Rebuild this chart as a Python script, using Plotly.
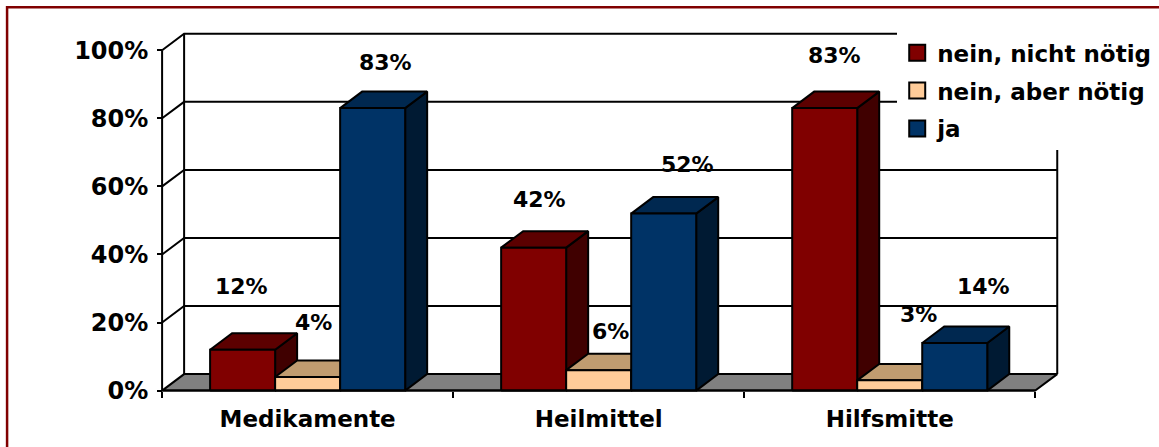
import plotly.graph_objects as go

# ---- data ----
categories = ["Medikamente", "Heilmittel", "Hilfsmitte"]
series_names = ["nein, nicht nötig", "nein, aber nötig", "ja"]
nein_nicht_noetig = [12, 42, 83]
nein_aber_noetig = [4, 6, 3]
ja = [83, 52, 14]
y_ticks = [0, 20, 40, 60, 80, 100]
y_tick_labels = ["0%", "20%", "40%", "60%", "80%", "100%"]

series_values = [nein_nicht_noetig, nein_aber_noetig, ja]

# ---- styling ----
# (front, top, side) face colours per series
FACE_COLORS = [
    ("#800000", "#5c0000", "#400000"),
    ("#ffcc99", "#c09c70", "#a07850"),
    ("#003366", "#002850", "#001a33"),
]
FLOOR_COLOR = "#808080"
EDGE = "black"
EDGE_W = 2
FONT = "DejaVu Sans"

# pixel offsets of the data labels relative to each bar's front top centre
LABEL_NUDGE = [
    [(-1, 63), (6, 54), (13, 46)],
    [(6, 48), (12, 39), (24, 49)],
    [(10, 53), (29, 66), (29, 56)],
]

# ---- 3D column geometry (in axis units) ----
BAR_W = 0.2234                 # bar width, category units
PAD = (1 - 3 * BAR_W) / 2      # gap on each side of a cluster
DX = 0.0756                    # depth offset along x
DY = 4.84                      # depth offset along y (percent)
N = len(categories)

# ---- plotting-area calibration ----
W_FIG, H_FIG = 1159, 447
X0_PX, X_UNIT_PX = 162, 291
Y0_PX, Y_UNIT_PX = 391, 3.41
XMIN, XMAX = -0.1, 3.25
YMIN, YMAX = -6, 108
plot_left = X0_PX + XMIN * X_UNIT_PX
plot_right = X0_PX + XMAX * X_UNIT_PX
plot_top = Y0_PX - YMAX * Y_UNIT_PX
plot_bottom = Y0_PX - YMIN * Y_UNIT_PX


def paper_x(px):
    return (px - plot_left) / (plot_right - plot_left)


def paper_y(py):
    return (plot_bottom - py) / (plot_bottom - plot_top)


def polygon(xs, ys, fill=None, width=EDGE_W):
    kw = dict(x=xs, y=ys, mode="lines", line=dict(color=EDGE, width=width),
              hoverinfo="skip", showlegend=False)
    if fill is not None:
        kw.update(fill="toself", fillcolor=fill)
    return go.Scatter(**kw)


fig = go.Figure()

# back wall / side wall grid lines
gx, gy = [], []
for v in y_ticks[1:]:
    gx += [0, DX, N + DX, None]
    gy += [v, v + DY, v + DY, None]
gx += [DX, DX, None, N + DX, N + DX, None]
gy += [DY, 100 + DY, None, DY, 100 + DY, None]
fig.add_trace(polygon(gx, gy))

# floor
fig.add_trace(polygon([0, N, N + DX, DX, 0], [0, 0, DY, DY, 0], fill=FLOOR_COLOR))

# columns: drawn left to right, side -> top -> front
for i in range(N):
    for s, values in enumerate(series_values):
        v = values[i]
        front, top, side = FACE_COLORS[s]
        left = i + PAD + s * BAR_W
        right = left + BAR_W
        fig.add_trace(polygon([right, right + DX, right + DX, right, right],
                              [0, DY, v + DY, v, 0], fill=side))
        fig.add_trace(polygon([left, right, right + DX, left + DX, left],
                              [v, v, v + DY, v + DY, v], fill=top))
        fig.add_trace(polygon([left, right, right, left, left],
                              [0, 0, v, v, 0], fill=front))
        dxp, dyp = LABEL_NUDGE[i][s]
        fig.add_annotation(x=(left + right) / 2, y=v, text=f"{v}%",
                           showarrow=False, xshift=dxp, yshift=dyp,
                           font=dict(family=FONT, size=22, color="black", weight="bold"))

# front axis lines
fig.add_trace(polygon([0, 0, None, 0, N], [0, 100, None, 0, 0]))

# legend entries
for s, name in enumerate(series_names):
    fig.add_trace(go.Scatter(
        x=[None], y=[None], mode="markers", name=name, legendgroup=name,
        marker=dict(symbol="square", size=16, color=FACE_COLORS[s][0],
                    line=dict(color="black", width=2)),
    ))

fig.update_layout(
    width=W_FIG, height=H_FIG,
    margin=dict(l=plot_left, r=W_FIG - plot_right, t=plot_top, b=H_FIG - plot_bottom,
                pad=0, autoexpand=False),
    paper_bgcolor="white", plot_bgcolor="white",
    font=dict(family=FONT, color="black"),
    xaxis=dict(
        range=[XMIN, XMAX], anchor="free", position=(0 - YMIN) / (YMAX - YMIN),
        tickvals=[i + 0.5 for i in range(N)], ticktext=categories, ticks="",
        ticklabelstandoff=12,
        tickfont=dict(family=FONT, size=23, color="black", weight="bold"),
        minor=dict(tickvals=list(range(N + 1)), ticks="outside", ticklen=6,
                   tickwidth=2, tickcolor="black", showgrid=False),
        showgrid=False, zeroline=False, showline=False, fixedrange=True,
    ),
    yaxis=dict(
        range=[YMIN, YMAX], anchor="free", position=(0 - XMIN) / (XMAX - XMIN),
        tickvals=y_ticks, ticktext=y_tick_labels, ticks="outside", ticklen=5,
        tickwidth=2, tickcolor="black", ticklabelstandoff=4,
        tickfont=dict(family=FONT, size=24, color="black", weight="bold"),
        showgrid=False, zeroline=False, showline=False, fixedrange=True,
    ),
    legend=dict(
        x=paper_x(897), y=paper_y(31), xanchor="left", yanchor="top",
        bgcolor="white", borderwidth=0, traceorder="grouped",
        font=dict(family=FONT, size=23, color="black", weight="bold"),
        itemsizing="trace", tracegroupgap=5,
    ),
    shapes=[dict(type="rect", xref="paper", yref="paper",
                 x0=paper_x(7), x1=paper_x(1180), y0=paper_y(470), y1=paper_y(7),
                 line=dict(color="#800000", width=2.5))],
)

fig.write_html("out.html")
